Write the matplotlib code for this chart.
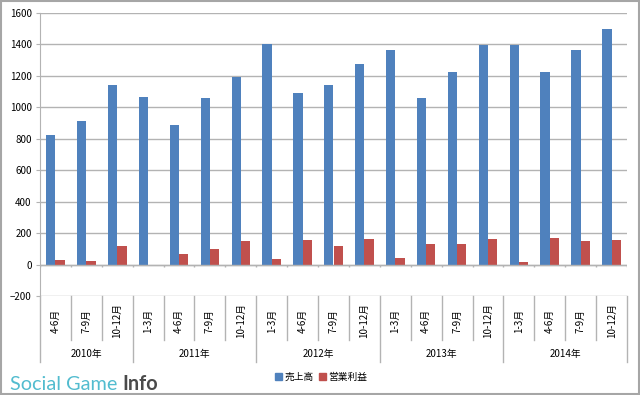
import numpy as np
import matplotlib
matplotlib.use("Agg")
import matplotlib.pyplot as plt
from matplotlib.patches import Patch, Rectangle

plt.rcParams['font.family'] = ['Noto Sans CJK JP', 'DejaVu Sans']

# ---- data ----
quarters = ["4-6月", "7-9月", "10-12月",
            "1-3月", "4-6月", "7-9月", "10-12月",
            "1-3月", "4-6月", "7-9月", "10-12月",
            "1-3月", "4-6月", "7-9月", "10-12月",
            "1-3月", "4-6月", "7-9月", "10-12月"]
years = ["2010年", "2011年", "2012年", "2013年", "2014年"]
year_sizes = [3, 4, 4, 4, 4]
sales = [820, 915, 1140, 1062, 885, 1058, 1192, 1402, 1088,
         1138, 1277, 1366, 1058, 1225, 1393, 1393, 1225, 1366, 1497]
profit = [29, 23, 118, 0, 65, 97, 149, 38, 158,
          118, 164, 44, 133, 128, 164, 19, 168, 149, 158]
series_names = ["売上高", "営業利益"]

BLUE = "#4F81BD"
RED = "#C0504D"
GRID = "#b3b3b3"

fig = plt.figure(figsize=(6.4, 3.95), dpi=100)
ax = fig.add_axes([40 / 640, 1 - 296 / 395, 587 / 640, 283.3 / 395])

x = np.arange(len(quarters))
w = 0.3
ax.bar(x - w / 2, sales, w, color=BLUE, zorder=3)
ax.bar(x + w / 2, profit, w, color=RED, zorder=3)

ax.set_xlim(-0.5, len(quarters) - 0.5)
ax.set_ylim(-200, 1600)
ax.set_yticks(np.arange(-200, 1601, 200))
ax.tick_params(axis="y", labelsize=7, length=3, color=GRID, pad=3)
ax.yaxis.grid(True, color=GRID, lw=1, zorder=0)
ax.set_xticks([])
for s in ["top", "right", "bottom"]:
    ax.spines[s].set_visible(False)
ax.spines["left"].set_color(GRID)

# category axis line at 0 with boundary ticks
ax.axhline(0, color=GRID, lw=1, zorder=4)
ax.vlines(np.arange(len(quarters) + 1) - 0.5, -18, 0, color=GRID, lw=1, zorder=4)

# multi-level category labels below the plot
tr = ax.get_xaxis_transform()
edges = np.arange(len(quarters) + 1) - 0.5
year_edges = np.concatenate([[0], np.cumsum(year_sizes)]) - 0.5
for e in edges:
    bottom = -0.233 if e in year_edges else -0.155
    ax.plot([e, e], [0, bottom], transform=tr, color=GRID, lw=1, clip_on=False)
for xi, lab in zip(x, quarters):
    ax.text(xi, -0.088, lab, transform=tr, rotation=90, ha="center", va="center",
            fontsize=7)
for i, lab in enumerate(years):
    mid = (year_edges[i] + year_edges[i + 1]) / 2
    ax.text(mid, -0.205, lab, transform=tr, ha="center", va="center", fontsize=7)

# legend
handles = [Patch(color=BLUE), Patch(color=RED)]
fig.legend(handles, series_names, loc="center", bbox_to_anchor=(0.502, 1 - 377 / 395),
           ncol=2, fontsize=7, frameon=False, handlelength=0.7, handleheight=0.7,
           handletextpad=0.2, columnspacing=0.6)

# watermark
t = fig.text(10 / 640, 1 - 390 / 395, "Social Game ", fontsize=14.3, color="#52bccf",
             family="Lato", va="baseline")
fig.canvas.draw()
bb = t.get_window_extent()
fig.text(bb.x1 / 640, 1 - 390 / 395, "Info", fontsize=14.3, color="#4a4a4a",
         family="Lato", weight="bold", va="baseline")

fig.patches.append(Rectangle((0.001, 0.002), 0.997, 0.996, transform=fig.transFigure,
                             fill=False, edgecolor="#a6a6a6", lw=1.5))

fig.savefig("out.png", dpi=100)
